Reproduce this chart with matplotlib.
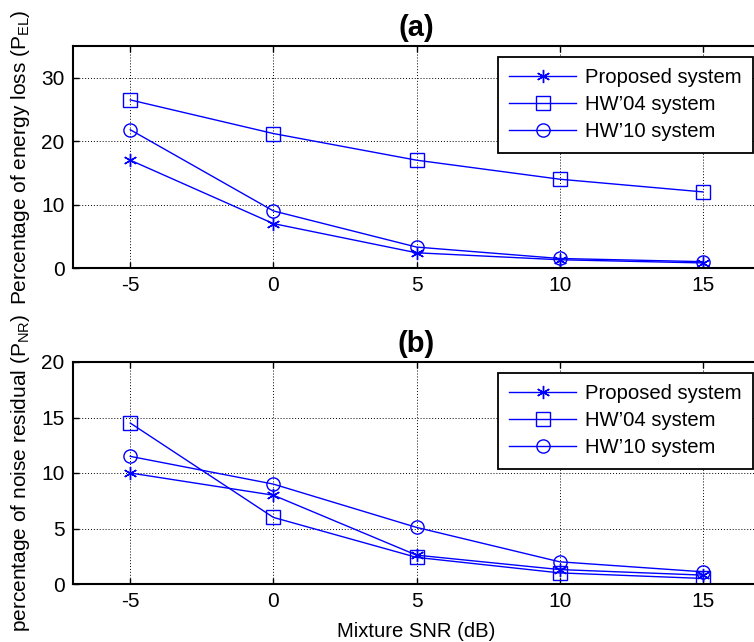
import matplotlib
matplotlib.use('Agg')
import matplotlib.pyplot as plt

plt.rcParams['font.family'] = ['Liberation Sans', 'DejaVu Sans']

snr = [-5, 0, 5, 10, 15]
series_names = ['Proposed system', "HW\u201904 system", "HW\u201910 system"]
markers = [(6, 2, 0), 's', 'o']

# (a) percentage of energy loss
el_proposed = [17.0, 7.0, 2.4, 1.3, 0.8]
el_hw04 = [26.5, 21.2, 17.0, 14.0, 12.0]
el_hw10 = [21.8, 9.0, 3.3, 1.5, 1.0]

# (b) percentage of noise residual
nr_proposed = [10.0, 8.0, 2.6, 1.3, 0.8]
nr_hw04 = [14.5, 6.0, 2.4, 1.0, 0.5]
nr_hw10 = [11.5, 9.0, 5.1, 2.0, 1.1]

W, H = 754, 642
fig = plt.figure(figsize=(W / 100, H / 100), dpi=100)


def draw_panel(rect, data, ylim, yticks, ylabel, title, legend_xy):
    ax = fig.add_axes(rect)
    for vals, m, name in zip(data, markers, series_names):
        ax.plot(snr, vals, color='#0000ff', linewidth=1.0, marker=m,
                markersize=9.5, markerfacecolor='none', markeredgecolor='#0000ff',
                markeredgewidth=1.0, label=name)
    ax.set_xlim(-7, 17)
    ax.set_ylim(*ylim)
    ax.set_xticks(snr)
    ax.set_xticklabels([str(v) for v in snr])
    ax.set_yticks(yticks)
    ax.tick_params(direction='in', length=4, labelsize=15, top=True, right=True,
                   width=1.0, pad=6)
    ax.grid(True, color='black', linestyle=(0, (1, 2)), linewidth=0.7)
    for s in ax.spines.values():
        s.set_linewidth(1.5)
    ax.set_ylabel(ylabel, fontsize=15, labelpad=7)
    ax.set_title(title, fontsize=21, fontweight='bold', pad=7)
    leg = ax.legend(loc='upper left', bbox_to_anchor=legend_xy,
                    bbox_transform=fig.transFigure, fontsize=14.6,
                    fancybox=False, framealpha=1, edgecolor='black',
                    handlelength=3.3, handletextpad=0.45, borderpad=0.55,
                    labelspacing=0.4, borderaxespad=0)
    leg.get_frame().set_linewidth(1.3)
    return ax


ax_w = 687 / W
ax_h = 222 / H
ax1 = draw_panel([73 / W, 1 - 268 / H, ax_w, ax_h],
                 [el_proposed, el_hw04, el_hw10], (0, 35), [0, 10, 20, 30],
                 r'Percentage of energy loss (P$\mathregular{_{EL}}$)', '(a)',
                 (498 / W, 1 - 57 / H))
ax2 = draw_panel([73 / W, 1 - 584 / H, ax_w, ax_h],
                 [nr_proposed, nr_hw04, nr_hw10], (0, 20), [0, 5, 10, 15, 20],
                 r'percentage of noise residual (P$\mathregular{_{NR}}$)', '(b)',
                 (498 / W, 1 - 373 / H))
ax2.set_xlabel('Mixture SNR (dB)', fontsize=14.6, labelpad=8)

fig.savefig('out.png', dpi=100)
